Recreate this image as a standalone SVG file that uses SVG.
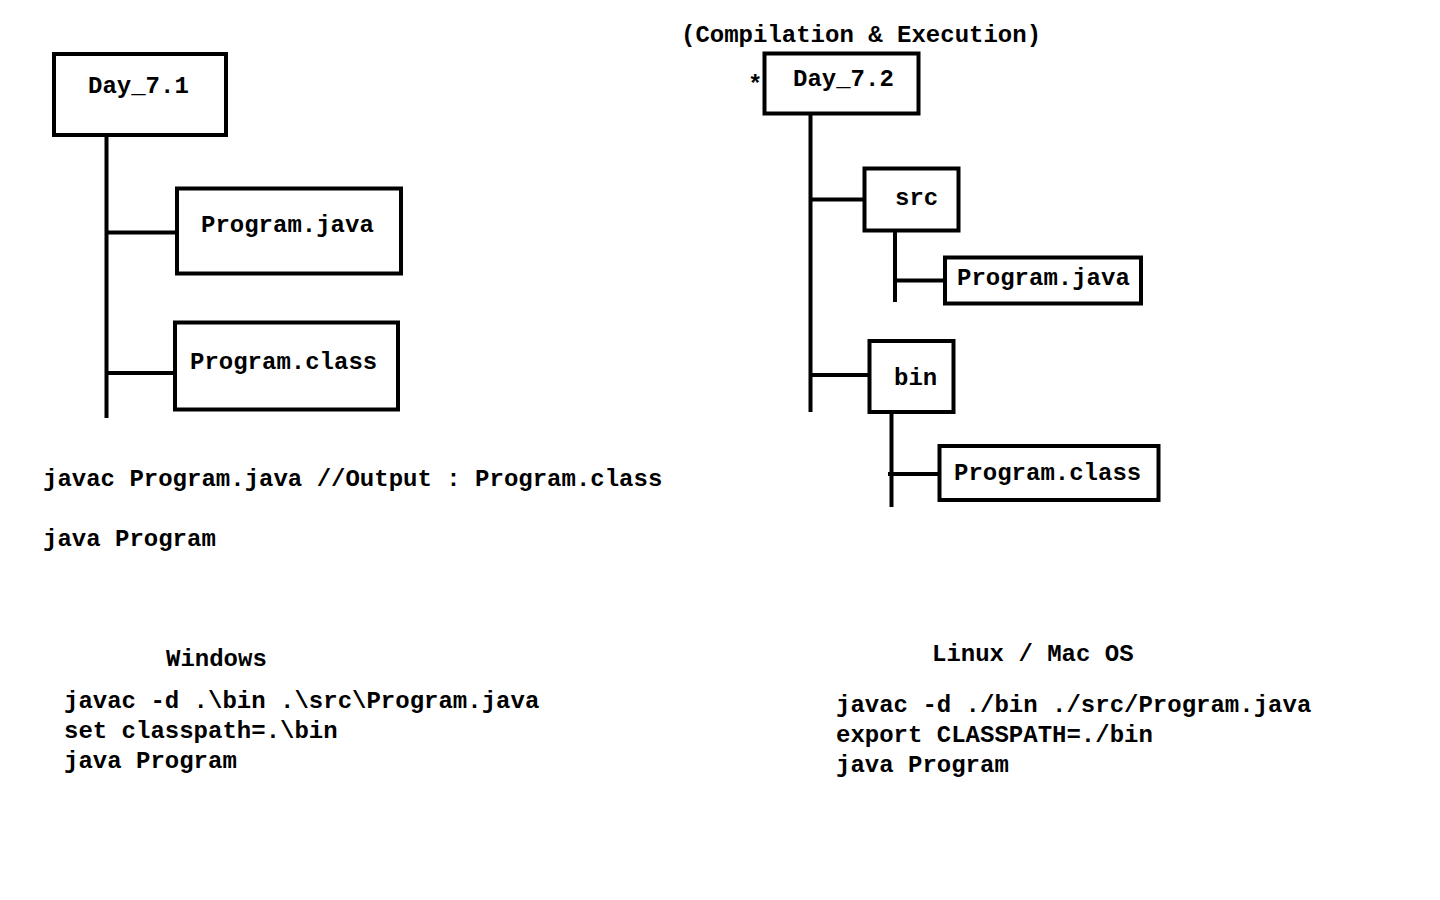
<svg xmlns="http://www.w3.org/2000/svg" width="1440" height="900" viewBox="0 0 1440 900">
<style>
.box{fill:#fff;stroke:#000;stroke-width:4}
.ln{stroke:#000;stroke-width:4;fill:none}
text{font-family:"Liberation Mono","Courier New",monospace;font-weight:bold;font-size:24px;fill:#000}
</style>
<rect width="1440" height="900" fill="#fff"/>
<g id="connectors">
<line class="ln" x1="106.5" y1="136" x2="106.5" y2="418"/>
<line class="ln" x1="106.5" y1="232.5" x2="177" y2="232.5"/>
<line class="ln" x1="106.5" y1="373" x2="175" y2="373"/>
<line class="ln" x1="810.5" y1="115" x2="810.5" y2="412"/>
<line class="ln" x1="810.5" y1="199.5" x2="864" y2="199.5"/>
<line class="ln" x1="810.5" y1="375" x2="869" y2="375"/>
<line class="ln" x1="895" y1="232" x2="895" y2="302"/>
<line class="ln" x1="895" y1="280.5" x2="945" y2="280.5"/>
<line class="ln" x1="891.5" y1="413" x2="891.5" y2="507"/>
<line class="ln" x1="888" y1="474" x2="947" y2="474"/>
</g>
<g id="day71">
<rect class="box" x="54" y="54" width="172" height="81"/>
<text x="88" y="93">Day_7.1</text>
</g>
<g id="program-java-1">
<rect class="box" x="177" y="188.5" width="224" height="85"/>
<text x="201" y="232">Program.java</text>
</g>
<g id="program-class-1">
<rect class="box" x="175" y="322.5" width="223" height="87"/>
<text x="190" y="369">Program.class</text>
</g>
<g id="title">
<text x="681" y="42">(Compilation &amp; Execution)</text>
</g>
<g id="day72">
<text x="748" y="92">*</text>
<rect class="box" x="764.5" y="53.5" width="154" height="60"/>
<text x="793" y="86">Day_7.2</text>
</g>
<g id="src">
<rect class="box" x="864.5" y="168.5" width="94" height="62"/>
<text x="895" y="205">src</text>
</g>
<g id="program-java-2">
<rect class="box" x="945" y="257.5" width="196" height="46"/>
<text x="957" y="285">Program.java</text>
</g>
<g id="bin">
<rect class="box" x="869.5" y="341" width="84" height="71"/>
<text x="894" y="385">bin</text>
</g>
<g id="program-class-2">
<rect class="box" x="939.5" y="446" width="219" height="54"/>
<text x="954" y="480">Program.class</text>
</g>
<g id="notes">
<text x="43" y="486">javac Program.java //Output : Program.class</text>
<text x="43" y="546">java Program</text>
<text x="166" y="666">Windows</text>
<text x="64" y="708">javac -d .\bin .\src\Program.java</text>
<text x="64" y="738">set classpath=.\bin</text>
<text x="64" y="768">java Program</text>
<text x="932" y="661">Linux / Mac OS</text>
<text x="836" y="712">javac -d ./bin ./src/Program.java</text>
<text x="836" y="742">export CLASSPATH=./bin</text>
<text x="836" y="772">java Program</text>
</g>
</svg>
